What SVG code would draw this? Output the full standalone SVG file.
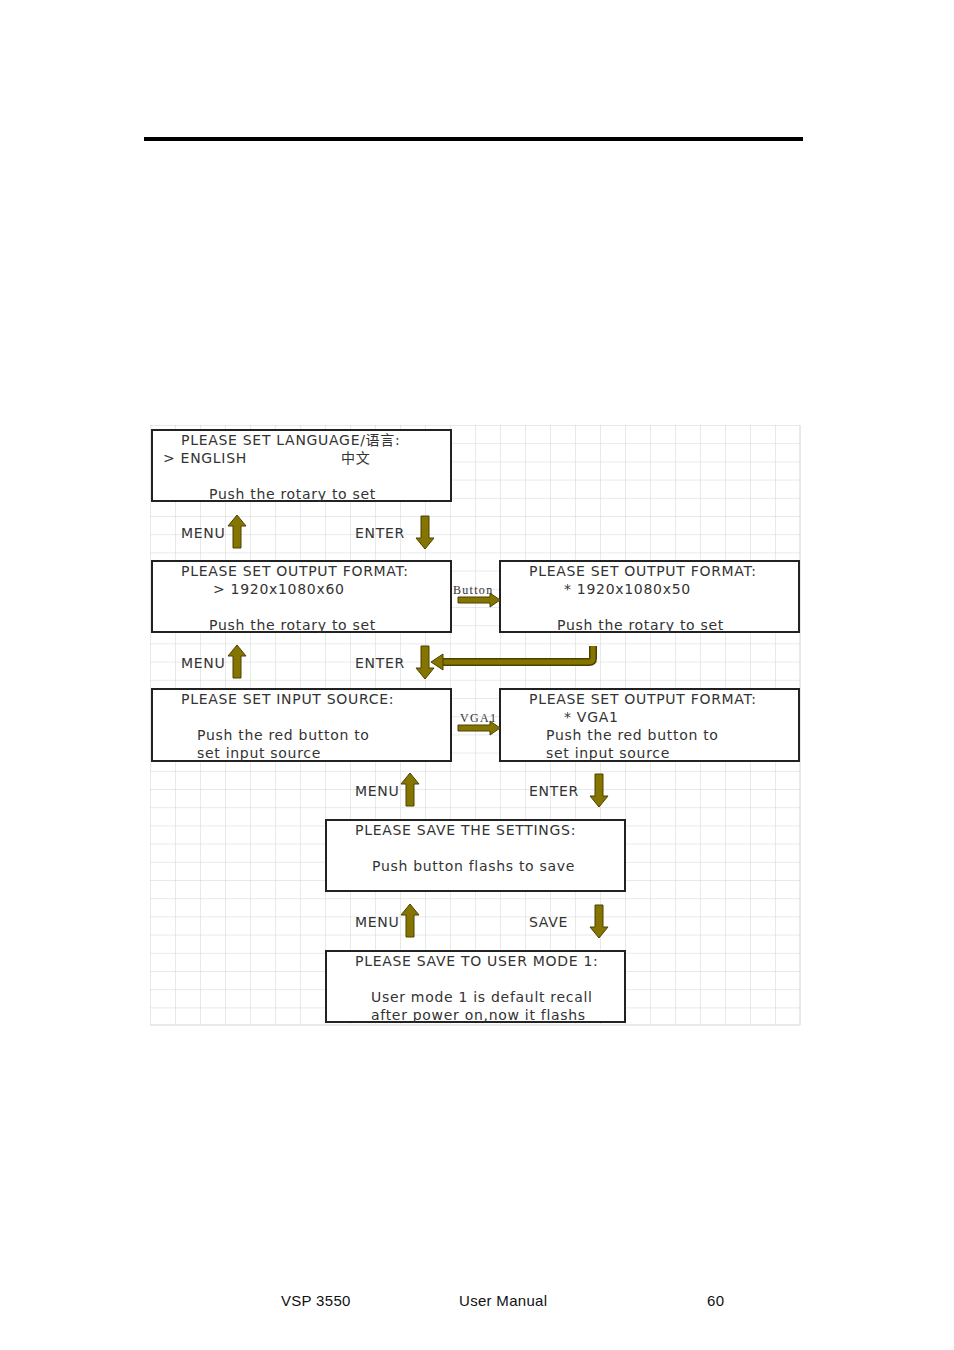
<svg xmlns="http://www.w3.org/2000/svg" width="954" height="1350" viewBox="0 0 954 1350">
<defs>
<pattern id="grid" x="150" y="425" width="25" height="18.2" patternUnits="userSpaceOnUse">
<path d="M0 0H25M0 0V18.2" fill="none" stroke="#d4d4d4" stroke-width="1"/>
</pattern>
<g id="up"><path d="M0 -17 L9 -6 L4 -6 L4 16 L-4 16 L-4 -6 L-9 -6 Z" fill="#857400" stroke="#4a4200" stroke-width="1"/></g>
<g id="down"><path d="M0 17 L9 6 L4 6 L4 -16 L-4 -16 L-4 6 L-9 6 Z" fill="#857400" stroke="#4a4200" stroke-width="1"/></g>
<g id="right"><path d="M22 0 L12 -7 L12 -3 L-20 -3 L-20 3 L12 3 L12 7 Z" fill="#857400" stroke="#4a4200" stroke-width="1"/></g>
</defs>
<style>
text{font-family:"DejaVu Sans","Noto Sans CJK SC",sans-serif;font-size:14px;fill:#333;letter-spacing:0.7px}
.s{font-family:"Liberation Serif",serif;font-size:12px;fill:#333;letter-spacing:1.3px}
.b{fill:#fff;stroke:#222;stroke-width:2}
.f{font-family:"Liberation Sans",sans-serif;font-size:15px;fill:#111;letter-spacing:0.3px}
</style>
<rect width="954" height="1350" fill="#fff"/>
<rect x="144" y="137" width="659" height="4" fill="#000"/>
<rect x="150" y="425" width="650" height="600" fill="url(#grid)"/>
<path d="M800 425V1025M150 1025H800" stroke="#d4d4d4"/>

<g id="n1"><rect class="b" x="152" y="430" width="299" height="71"/>
<text x="181" y="445">PLEASE SET LANGUAGE/语言:</text>
<text x="163" y="463">&gt; ENGLISH</text><text x="341" y="463">中文</text>
<text x="209" y="499">Push the rotary to set</text></g>

<g id="n2"><rect class="b" x="152" y="561" width="299" height="71"/>
<text x="181" y="576">PLEASE SET OUTPUT FORMAT:</text>
<text x="213" y="594">&gt; 1920x1080x60</text>
<text x="209" y="630">Push the rotary to set</text></g>

<g id="n3"><rect class="b" x="500" y="561" width="299" height="71"/>
<text x="529" y="576">PLEASE SET OUTPUT FORMAT:</text>
<text x="564" y="594">* 1920x1080x50</text>
<text x="557" y="630">Push the rotary to set</text></g>

<g id="n4"><rect class="b" x="152" y="689" width="299" height="72"/>
<text x="181" y="704">PLEASE SET INPUT SOURCE:</text>
<text x="197" y="740">Push the red button to</text>
<text x="197" y="758">set input source</text></g>

<g id="n5"><rect class="b" x="500" y="689" width="299" height="72"/>
<text x="529" y="704">PLEASE SET OUTPUT FORMAT:</text>
<text x="564" y="722">* VGA1</text>
<text x="546" y="740">Push the red button to</text>
<text x="546" y="758">set input source</text></g>

<g id="n6"><rect class="b" x="326" y="820" width="299" height="71"/>
<text x="355" y="835">PLEASE SAVE THE SETTINGS:</text>
<text x="372" y="871">Push button flashs to save</text></g>

<g id="n7"><rect class="b" x="326" y="951" width="299" height="71"/>
<text x="355" y="966">PLEASE SAVE TO USER MODE 1:</text>
<text x="371" y="1002">User mode 1 is default recall</text>
<text x="371" y="1020">after power on,now it flashs</text></g>

<g id="connectors">
<text x="181" y="538">MENU</text><use href="#up" x="237" y="532"/>
<text x="355" y="538">ENTER</text><use href="#down" x="425" y="532"/>
<text x="181" y="668">MENU</text><use href="#up" x="237" y="662"/>
<text x="355" y="668">ENTER</text><use href="#down" x="425" y="662"/>
<text class="s" x="453" y="594">Button</text><use href="#right" x="478" y="600"/>
<text class="s" x="460" y="722">VGA1</text><use href="#right" x="478" y="728"/>
<path d="M593 646 V658 Q593 662 589 662 H440" fill="none" stroke="#4a4200" stroke-width="8"/>
<path d="M593 646 V658 Q593 662 589 662 H440" fill="none" stroke="#857400" stroke-width="5"/>
<path d="M431 662 L443 654 L443 670 Z" fill="#857400" stroke="#4a4200" stroke-width="1"/>
<text x="355" y="796">MENU</text><use href="#up" x="410" y="790"/>
<text x="529" y="796">ENTER</text><use href="#down" x="599" y="790"/>
<text x="355" y="927">MENU</text><use href="#up" x="410" y="921"/>
<text x="529" y="927">SAVE</text><use href="#down" x="599" y="921"/>
</g>
<text class="f" x="281" y="1306">VSP 3550</text>
<text class="f" x="459" y="1306">User Manual</text>
<text class="f" x="707" y="1306">60</text>
</svg>
